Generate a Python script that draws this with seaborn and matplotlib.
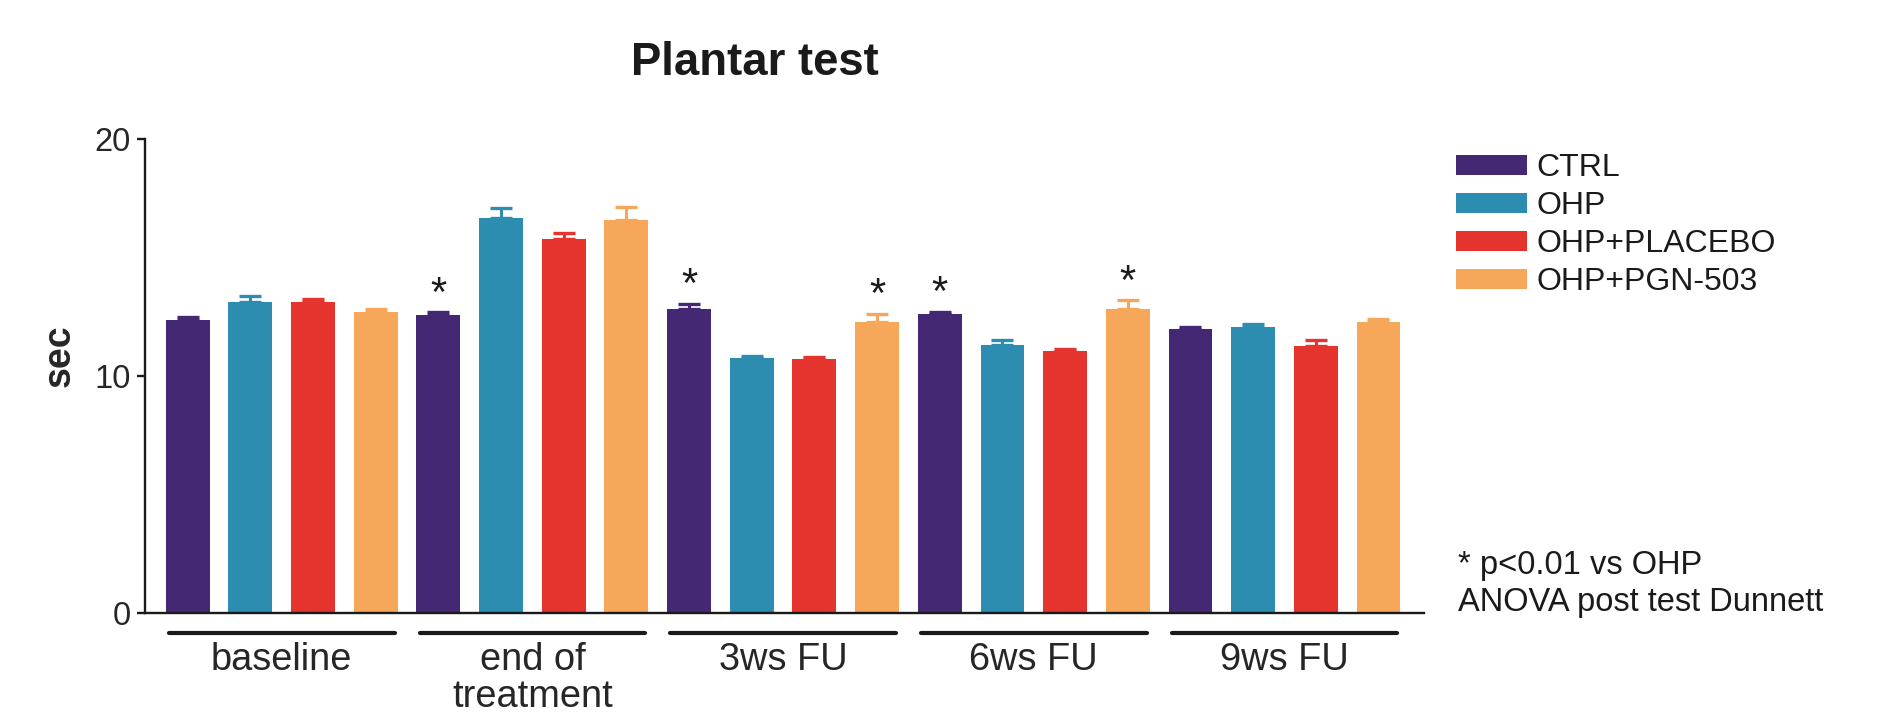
import matplotlib
matplotlib.use("Agg")
import matplotlib.pyplot as plt
import matplotlib.transforms as mtransforms
from matplotlib.patches import Patch
import numpy as np
import pandas as pd
import seaborn as sns

# ---- data -------------------------------------------------------------
timepoints = ["baseline", "end of\ntreatment", "3ws FU", "6ws FU", "9ws FU"]
groups = ["CTRL", "OHP", "OHP+PLACEBO", "OHP+PGN-503"]

ctrl_mean = [12.35, 12.59, 12.83, 12.60, 11.97]
ctrl_sem = [0.16, 0.10, 0.21, 0.10, 0.08]
ohp_mean = [13.11, 16.69, 10.75, 11.32, 12.06]
ohp_sem = [0.25, 0.42, 0.10, 0.18, 0.15]
placebo_mean = [13.11, 15.78, 10.71, 11.04, 11.27]
placebo_sem = [0.16, 0.27, 0.10, 0.12, 0.23]
pgn_mean = [12.69, 16.58, 12.27, 12.84, 12.27]
pgn_sem = [0.13, 0.55, 0.35, 0.35, 0.14]

# (group, timepoint) pairs with p<0.01 vs OHP
significant = [("CTRL", "end of\ntreatment"), ("CTRL", "3ws FU"), ("CTRL", "6ws FU"),
               ("OHP+PGN-503", "3ws FU"), ("OHP+PGN-503", "6ws FU")]

colors = ["#442873", "#2d8db1", "#e5332e", "#f6a75a"]

means = [ctrl_mean, ohp_mean, placebo_mean, pgn_mean]
sems = [ctrl_sem, ohp_sem, placebo_sem, pgn_sem]

df = pd.DataFrame({
    "time": np.tile(timepoints, len(groups)),
    "group": np.repeat(groups, len(timepoints)),
    "sec": np.concatenate(means),
    "sem": np.concatenate(sems),
})

# ---- style ------------------------------------------------------------
sns.set_style("ticks")
plt.rcParams["font.family"] = ["Liberation Sans", "DejaVu Sans"]
plt.rcParams["text.color"] = "#1a1a1a"

W, H = 1877, 720
fig = plt.figure(figsize=(W / 100, H / 100), dpi=100)
ax_l, ax_r, ax_b, ax_t = 145, 1424, 612.7, 139.3
ax = fig.add_axes([ax_l / W, 1 - ax_b / H, (ax_r - ax_l) / W, (ax_b - ax_t) / H])

sns.barplot(data=df, x="time", y="sec", hue="group", order=timepoints,
            hue_order=groups, palette=colors, errorbar=None, width=1.0,
            gap=0.3, saturation=1, linewidth=0, legend=False, ax=ax)

bar_containers = list(ax.containers)

# one-sided SEM error bars on top of each bar
for gi, cont in enumerate(bar_containers):
    xs = [p.get_x() + p.get_width() / 2 for p in cont]
    ax.errorbar(xs, means[gi], yerr=[np.zeros(len(xs)), sems[gi]], fmt="none",
                ecolor=colors[gi], elinewidth=2.2, capsize=8.2, capthick=2.4,
                zorder=1)

# significance asterisks
for g, t in significant:
    gi, ti = groups.index(g), timepoints.index(t)
    p = bar_containers[gi][ti]
    top = means[gi][ti] + sems[gi][ti]
    ax.text(p.get_x() + p.get_width() / 2, top + 0.28, "*", ha="center",
            va="baseline", fontsize=30, color="#1a1a1a")

ax.set_xlim(-0.5453, 4.5565)
ax.set_ylim(0, 20)
ax.set_yticks([0, 10, 20])
ax.set_xlabel("")
ax.set_ylabel("sec", fontsize=27, fontweight="bold", va="center")
ax.yaxis.set_label_coords(-0.0669, 0.543)

sns.despine(ax=ax)
for s in ("left", "bottom"):
    ax.spines[s].set_linewidth(1.7)
    ax.spines[s].set_color("#1a1a1a")
ax.tick_params(axis="y", length=6, width=1.7, color="#1a1a1a", pad=4.5,
               labelsize=23.5)
ax.tick_params(axis="x", length=0, pad=21, labelsize=27.4)
for lbl in ax.get_xticklabels():
    lbl.set_linespacing(1.05)

# group underline bars below the x axis
trans = mtransforms.blended_transform_factory(ax.transData, ax.transAxes)
for i in range(len(timepoints)):
    ax.plot([i - 0.45, i + 0.45], [-0.0422, -0.0422], transform=trans,
            color="#1a1a1a", lw=3.0, solid_capstyle="round", clip_on=False)

# legend
handles = [Patch(facecolor=c, edgecolor="none") for c in colors]
fig.legend(handles, groups, loc="upper left",
           bbox_to_anchor=(1456 / W, 1 - 153 / H), frameon=False,
           fontsize=23, handlelength=2.22, handleheight=0.6,
           handletextpad=0.29, labelspacing=0.25, borderpad=0,
           borderaxespad=0)

# title and statistics note
fig.text(755 / W, 1 - 75 / H, "Plantar test", ha="center", va="baseline",
         fontsize=32.8, fontweight="bold")
fig.text(1458.5 / W, 1 - 574.3 / H, "* p<0.01 vs OHP", ha="left",
         va="baseline", fontsize=23.5)
fig.text(1458.5 / W, 1 - 611 / H, "ANOVA post test Dunnett", ha="left",
         va="baseline", fontsize=23.5)

fig.savefig("out.png", dpi=100)
